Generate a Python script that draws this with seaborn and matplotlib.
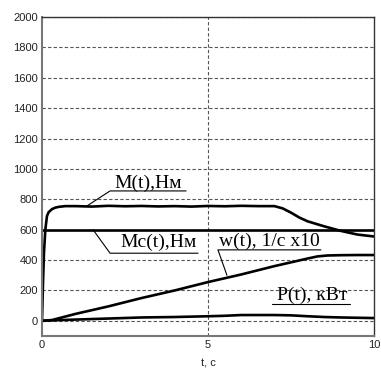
import numpy as np
import pandas as pd
import seaborn as sns
import matplotlib
matplotlib.use("Agg")
import matplotlib.pyplot as plt

# ---- data ----
t_M = [0, 0.03, 0.06, 0.1, 0.15, 0.2, 0.3, 0.4, 0.5, 0.7, 1, 1.5, 2, 2.5, 3, 3.5, 4, 4.5, 5, 5.5, 6, 6.5, 7, 7.25, 7.5, 7.75, 8, 8.5, 9, 9.5, 10]
M = [0, 250, 450, 600, 690, 715, 735, 745, 750, 755, 755, 752, 757, 754, 756, 753, 755, 752, 756, 754, 757, 755, 755, 740, 712, 680, 655, 622, 592, 568, 555]

t_Mc = [0, 10]
Mc = [600, 600]

t_w = [0, 0.3, 1, 2, 3, 4, 5, 6, 7, 7.5, 8, 8.3, 8.6, 9, 9.5, 10]
w = [0, 5, 45, 95, 150, 200, 255, 305, 360, 385, 410, 424, 430, 432, 433, 433]

t_P = [0, 0.3, 1, 2, 3, 4, 5, 5.5, 6, 7, 7.5, 8, 8.5, 9, 9.5, 10]
P = [0, 3, 8, 15, 22, 25, 30, 33, 38, 38, 36, 30, 25, 22, 20, 18]

y_ticks = list(range(0, 2001, 200))
x_ticks = [0, 5, 10]
x_label = "t, c"

sns.set_theme(style="white")
plt.rcParams["font.family"] = ["Liberation Sans", "DejaVu Sans"]

fig = plt.figure(figsize=(3.81, 3.74), dpi=100)
ax = fig.add_axes([42/381, 38/374, (374-42)/381, (336-17)/374])

frames = [
    pd.DataFrame({"t": t_M, "v": M, "s": "M"}),
    pd.DataFrame({"t": t_Mc, "v": Mc, "s": "Mc"}),
    pd.DataFrame({"t": t_w, "v": w, "s": "w"}),
    pd.DataFrame({"t": t_P, "v": P, "s": "P"}),
]
for df in frames:
    sns.lineplot(data=df, x="t", y="v", ax=ax, color="black", linewidth=1.9,
                 estimator=None, sort=False, legend=False)

ax.set_xlim(0, 10)
ax.set_ylim(-100, 2000)
ax.set_yticks(y_ticks)
ax.set_xticks(x_ticks)
ax.tick_params(axis="both", labelsize=8, length=0, pad=3, colors="#222222")
ax.set_xlabel(x_label, fontsize=8, labelpad=6, color="#222222")
ax.set_ylabel("")

for yv in y_ticks:
    ax.axhline(yv, color="#555555", linewidth=0.8, linestyle=(0, (3, 2)), zorder=0)
ax.axvline(5, color="#555555", linewidth=0.8, linestyle=(0, (3, 2)), zorder=0)

for sp in ax.spines.values():
    sp.set_color("#333333")
    sp.set_linewidth(1.0)
ax.spines["left"].set_color("#777777")
ax.spines["bottom"].set_color("#777777")
ax.spines["left"].set_linewidth(1.5)
ax.spines["bottom"].set_linewidth(1.5)

serif = ["Liberation Serif", "DejaVu Serif"]
fs = 14

def lbl(text, cx, cy):
    ax.text(cx, cy, text, family=serif, fontsize=fs, ha="center", va="center", color="black")

def seg(xs, ys):
    ax.plot(xs, ys, color="black", linewidth=0.8)

# M(t)
lbl("M(t),Нм", 3.2, 905)
seg([1.36, 2.05, 4.34], [757, 855, 855])
# Mc(t)
lbl("Mc(t),Нм", 3.5, 515)
seg([1.54, 2.05, 4.70], [599, 445, 445])
# w(t)
lbl("w(t), 1/c x10", 6.85, 520)
seg([5.57, 5.30, 8.40], [300, 467, 467])
# P(t)
lbl("P(t), кВт", 8.13, 166)
seg([6.93, 9.28], [112, 112])

fig.savefig("out.png", dpi=100)
